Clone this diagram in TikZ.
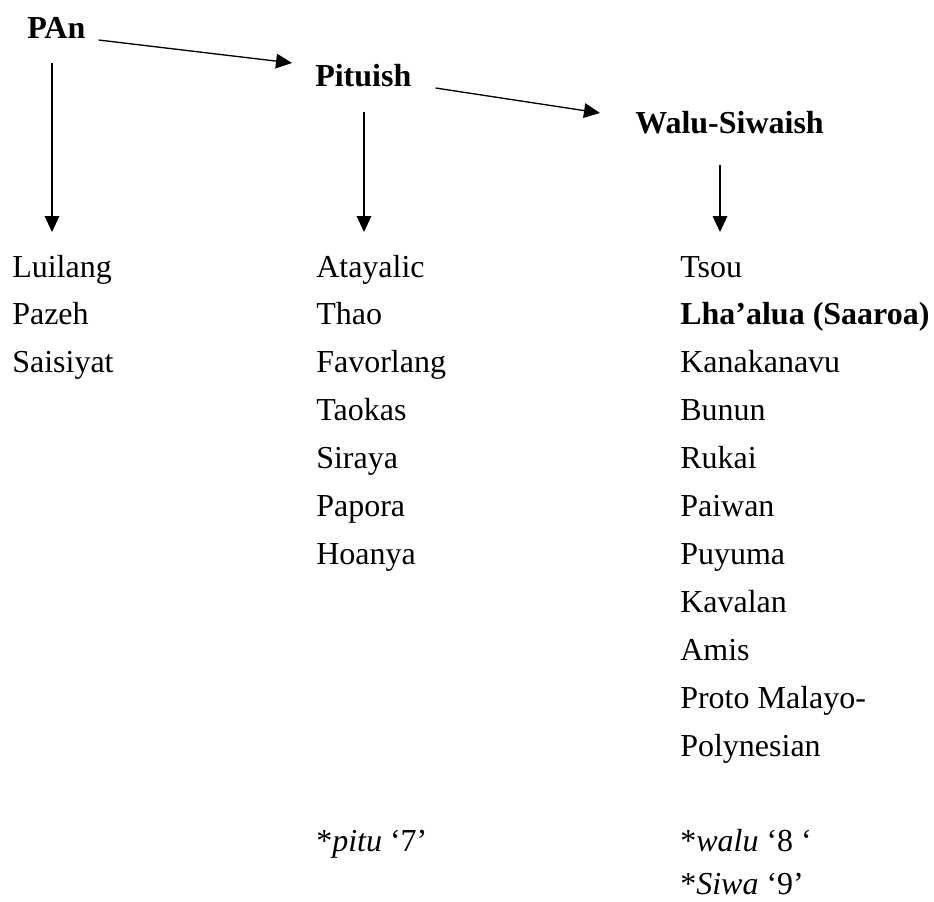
\documentclass[tikz,border=0pt]{standalone}
\usepackage{fontspec}
\setmainfont{Liberation Serif}
\usetikzlibrary{arrows.meta,calc}

\begin{document}
\begin{tikzpicture}[x=0.75pt, y=-0.75pt,
    lang/.style={anchor=base west, inner sep=0pt, font=\fontsize{24}{28}\selectfont},
    group/.style={lang, font=\fontsize{24}{28}\selectfont\bfseries},
    branch/.style={-{Triangle[length=12pt,width=11pt]}, line width=1pt}]
    \useasboundingbox (0,0) rectangle (934,901);

    % subgroups
    \node[group] (pan) at (27,38) {PAn};
    \node[group] (pit) at (315,86) {Pituish};
    \node[group] (walu) at (635,133) {Walu-Siwaish};

    % languages
    \foreach \name [count=\i] in {Luilang,Pazeh,Saisiyat}
        \node[lang] (l\i) at (12,{277+47.9*(\i-1)}) {\name};
    \foreach \name [count=\i] in {Atayalic,Thao,Favorlang,Taokas,Siraya,Papora,Hoanya}
        \node[lang] (m\i) at (316,{277+47.9*(\i-1)}) {\name};
    \foreach \name [count=\i] in {Tsou,\textbf{Lha’alua (Saaroa)},Kanakanavu,Bunun,Rukai,
        Paiwan,Puyuma,Kavalan,Amis,Proto Malayo-,Polynesian}
        \node[lang] (r\i) at (680,{277+47.9*(\i-1)}) {\name};

    % numerals
    \node[lang] (pitu) at (316,{277+47.9*12}) {*\textit{pitu} ‘7’};
    \node[lang] (walu8) at (680,{277+47.9*12}) {*\textit{walu} ‘8 ‘};
    \node[lang] (siwa) at (680,894) {*\textit{Siwa} ‘9’};

    % arrows
    \draw[branch] ($(pan.base east)+(13,2)$) -- ($(pit.base west)+(-23,-23)$);
    \draw[branch] ($(pit.base east)+(24,2)$) -- ($(walu.base west)+(-35,-20)$);
    \draw[branch] ($(pan.base west)+(25,25)$) -- ($(l1.base west)+(40,-45)$);
    \draw[branch] ($(pit.base west)+(49,26)$) -- ($(m1.base west)+(48,-45)$);
    \draw[branch] ($(walu.base west)+(85,32)$) -- ($(r1.base west)+(40,-45)$);
\end{tikzpicture}
\end{document}
